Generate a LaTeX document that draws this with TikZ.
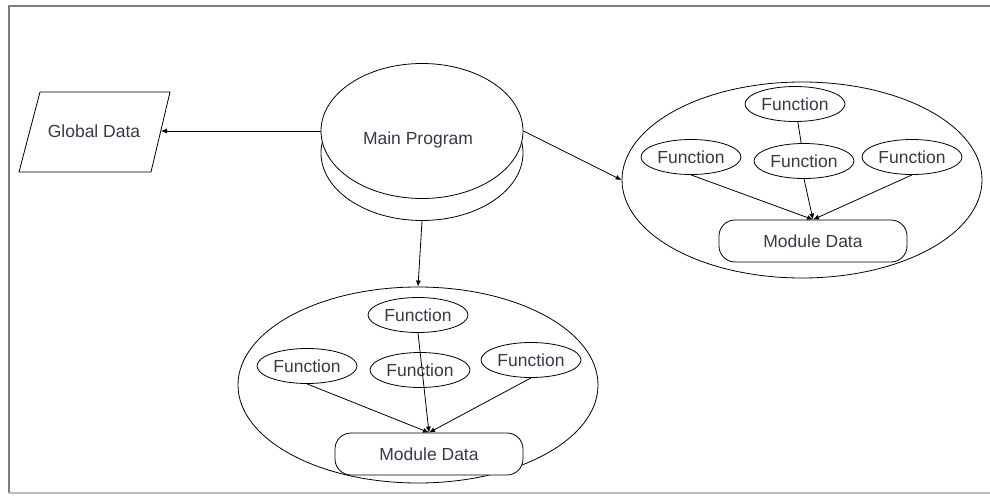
\documentclass[tikz,border=0pt]{standalone}
\usepackage{fontspec}
\setmainfont{Liberation Sans}
\usetikzlibrary{shapes.geometric,arrows.meta}
\definecolor{txt}{RGB}{62,54,72}
\definecolor{framegray}{RGB}{125,125,125}
\begin{document}
\begin{tikzpicture}[x=1pt,y=-1pt,line width=0.8pt,
  every node/.style={font=\fontsize{17.5}{21}\selectfont,text=txt,inner sep=0pt},
  func/.style={draw,ellipse,fill=white,minimum width=100pt,minimum height=35pt},
  module/.style={draw,ellipse,minimum width=360pt,minimum height=196pt},
  mdata/.style={draw,rectangle,rounded corners=16pt,fill=white,minimum width=188pt,minimum height=42pt},
  disk/.style={draw,ellipse,fill=white,minimum width=202pt,minimum height=135pt},
  arr/.style={-{Latex[length=6pt,width=5pt]}}]
\useasboundingbox (0,0) rectangle (990,495);
\draw[framegray,line width=1.5pt] (9,493) -- (9,6) -- (990,6);
\draw[lightgray,line width=1.2pt] (9,493) -- (990,493);
\draw (40,92) -- (170,92) -- (151,172) -- (19,172) -- cycle;
\node (global) at (94,131) {Global Data};
\coordinate (globalin) at (161,131);
\node[disk] (mainbase) at (422,153) {};
\node[disk] (main) at (422,131) {};
\node (mainlabel) at (418,140) {Main Program};
\node[module] (bmod) at (418,385) {};
\node[func] (btop) at (418,315) {Function};
\node[func] (bleft) at (307,366) {Function};
\node[func] (bmid) at (420,370) {Function};
\node[func] (bright) at (531,360) {Function};
\node[mdata] (bdata) at (429,454) {Module Data};
\draw[arr] (bleft.south) -- (bdata.north);
\draw[arr] (btop.south) -- (bdata.north);
\draw[arr] (bright.south) -- (bdata.north);
\node[module] (rmod) at (802,180) {};
\node[func] (rtop) at (795,104) {Function};
\node[func] (rleft) at (691,157) {Function};
\node[func] (rmid) at (804,161) {Function};
\node[func] (rright) at (912,157) {Function};
\node[mdata] (rdata) at (813,241) {Module Data};
\draw (rtop) -- (rmid);
\draw[arr] (rleft.south) -- (rdata.north);
\draw[arr] (rmid.south) -- (rdata.north);
\draw[arr] (rright.south) -- (rdata.north);
\draw[arr] (main.west) -- (globalin);
\draw[arr] (main.east) -- (rmod.west);
\draw[arr] (mainbase.south) -- (bmod.north);
\end{tikzpicture}
\end{document}
